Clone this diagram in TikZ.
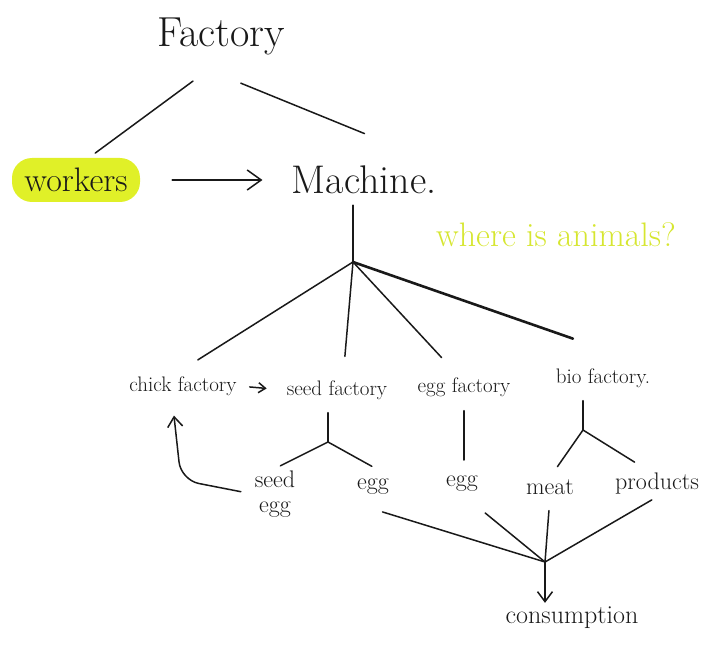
\documentclass[tikz,border=0pt]{standalone}
\usepackage{xcolor}
\usepackage{tikz}
\usetikzlibrary{arrows.meta}

\definecolor{ink}{RGB}{25,25,25}
\definecolor{marker}{RGB}{224,240,40}
\definecolor{pen}{RGB}{214,230,48}

\tikzset{
  wire/.style={draw=ink, line width=1.5pt, line cap=round},
  heavy/.style={draw=ink, line width=2.6pt, line cap=round},
  word/.style={text=ink, inner sep=2pt, font=\fontsize{21}{24}\selectfont},
  goods/.style={text=ink, inner sep=2pt, font=\fontsize{24}{25}\selectfont},
  bigtip/.style={-{Straight Barb[length=14pt, width=20pt]}},
  midtip/.style={-{Straight Barb[length=10pt, width=15pt]}},
  smalltip/.style={-{Straight Barb[length=7pt, width=10pt]}}
}

\begin{document}
\begin{tikzpicture}[x=1pt, y=-1pt]
\useasboundingbox (0,0) rectangle (707,647);

% top
\node[word, font=\fontsize{42}{46}\selectfont] (factory) at (221,36) {Factory};
\node[word, font=\fontsize{34}{38}\selectfont, fill=marker, rounded corners=20pt,
      minimum width=128pt, minimum height=44pt] (workers) at (76,180) {workers};
\node[word, font=\fontsize{40}{44}\selectfont] (machine) at (364,180) {Machine.};
\node[word, text=pen, font=\fontsize{34}{38}\selectfont] (animals) at (556,235) {where is animals?};

% factories
\node[word] (chick) at (183,386) {chick factory};
\node[word] (seed) at (337,390) {seed factory};
\node[word] (eggf) at (464,387) {egg factory};
\node[word] (bio) at (603,378) {bio factory.};

% goods
\node[goods, align=center] (seedegg) at (275,494) {seed\\egg};
\node[goods] (egg1) at (373,487) {egg};
\node[goods] (egg2) at (462,484) {egg};
\node[goods] (meat) at (550,487) {meat};
\node[goods] (products) at (657,484) {products};
\node[word, font=\fontsize{26}{30}\selectfont] (consumption) at (572,618) {consumption};

\coordinate (hub) at (353,262);
\coordinate (split1) at (328,442);
\coordinate (split2) at (583,430);
\coordinate (bend) at (181,480);
\coordinate (sink) at (545,562);

\draw[wire, shorten <=41pt, shorten >=8pt] ([xshift=5pt]factory.south) -- (workers.60);
\draw[wire, shorten <=70pt, shorten >=80pt] ([xshift=-45pt]factory.south) -- (machine.north east);
\draw[wire, bigtip, shorten <=32pt, shorten >=27pt] (workers.east) -- (machine.west);

\draw[wire, shorten >=9pt] (hub) -- (hub |- machine.south);
\draw[wire, shorten >=27pt] (hub) -- ([xshift=-8pt]chick.north);
\draw[wire, shorten >=22pt] (hub) -- ([xshift=6pt]seed.north);
\draw[wire, shorten >=24pt] (hub) -- ([xshift=-6pt]eggf.north);
\draw[heavy, shorten >=84pt] (hub) -- (bio.north east);

\draw[wire, smalltip, shorten <=11pt, shorten >=18pt] (chick.east) -- (seed.west);

\draw[wire, shorten >=11pt] (split1) -- (split1 |- seed.south);
\draw[wire, shorten >=6pt] (split1) -- (seedegg.north);
\draw[wire, shorten >=22pt] (split1) -- (egg1.north east);

\draw[wire, shorten <=12pt, shorten >=14pt] (eggf.south) -- (eggf.south |- egg2.north);

\draw[wire, shorten >=11pt] (split2) -- (split2 |- bio.south);
\draw[wire, shorten >=13pt] (split2) -- (meat.north);
\draw[wire, shorten >=17pt] (split2) -- ([xshift=-8pt]products.north);

\draw[wire, midtip, rounded corners=18pt, shorten <=12pt, shorten >=18pt]
  (seedegg.west) -- (bend) -- ([xshift=-11pt]chick.south);

\draw[wire, shorten <=10pt] ([yshift=-12pt]egg1.south) -- (sink);
\draw[wire, shorten <=30pt] (egg2.south) -- (sink);
\draw[wire, shorten <=14pt] (meat.south) -- (sink);
\draw[wire, shorten <=6pt] (products.south) -- (sink);
\draw[wire, midtip, shorten >=2pt] (sink) -- (sink |- consumption.north);
\end{tikzpicture}
\end{document}
